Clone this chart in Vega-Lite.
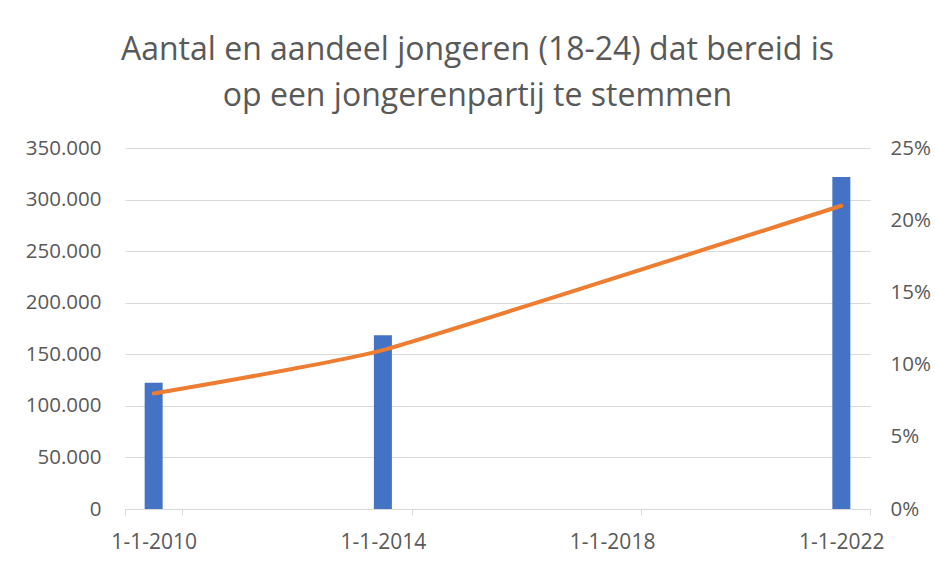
{
  "$schema": "https://vega.github.io/schema/vega-lite/v6.json",
  "autosize": "none",
  "width": 745,
  "height": 361,
  "padding": {"left": 125, "top": 148, "right": 65, "bottom": 57},
  "background": "white",
  "title": {
    "text": ["Aantal en aandeel jongeren (18-24) dat bereid is", "op een jongerenpartij te stemmen"],
    "font": "Open Sans",
    "fontSize": 32,
    "fontWeight": "normal",
    "color": "#595959",
    "anchor": "middle",
    "lineHeight": 46,
    "offset": 25,
    "dx": -20
  },
  "config": {
    "view": {"stroke": null},
    "axis": {"labelFont": "Open Sans", "labelColor": "#595959", "labelFontSize": 20.5}
  },
  "data": {
    "values": [
      {"year": 2010, "aantal": 122500, "aandeel": 0.08},
      {"year": 2014, "aantal": 168400, "aandeel": 0.11},
      {"year": 2022, "aantal": 322000, "aandeel": 0.21}
    ]
  },
  "encoding": {
    "x": {
      "field": "year",
      "type": "ordinal",
      "title": null,
      "scale": {
        "domain": [2010, 2011, 2012, 2013, 2014, 2015, 2016, 2017, 2018, 2019, 2020, 2021, 2022],
        "paddingInner": 0,
        "paddingOuter": 0
      },
      "axis": {
        "values": [2010, 2014, 2018, 2022],
        "labelExpr": "datum.value ? '1-1-' + datum.value : ''",
        "labelAngle": 0,
        "labelFontSize": 21,
        "tickBand": "extent",
        "domainColor": "#d9d9d9",
        "tickColor": "#d9d9d9",
        "tickSize": 6,
        "labelPadding": 16,
        "grid": false
      }
    }
  },
  "layer": [
    {
      "mark": {"type": "bar", "color": "#4472C4", "size": 18},
      "encoding": {
        "y": {
          "field": "aantal",
          "type": "quantitative",
          "title": null,
          "scale": {"domain": [0, 350000], "nice": false},
          "axis": {
            "values": [0, 50000, 100000, 150000, 200000, 250000, 300000, 350000],
            "labelExpr": "replace(format(datum.value, ','), ',', '.')",
            "domain": false,
            "ticks": false,
            "labelPadding": 24,
            "gridColor": "#d9d9d9",
            "gridWidth": 1
          }
        }
      }
    },
    {
      "mark": {"type": "line", "color": "#ED7D31", "strokeWidth": 4, "interpolate": "cardinal", "tension": 0.6, "strokeCap": "round"},
      "encoding": {
        "y": {
          "field": "aandeel",
          "type": "quantitative",
          "title": null,
          "scale": {"domain": [0, 0.25], "nice": false},
          "axis": {
            "orient": "right",
            "values": [0, 0.05, 0.1, 0.15, 0.2, 0.25],
            "format": ".0%",
            "domain": false,
            "ticks": false,
            "grid": false,
            "labelPadding": 20
          }
        }
      }
    }
  ],
  "resolve": {"scale": {"y": "independent"}}
}
